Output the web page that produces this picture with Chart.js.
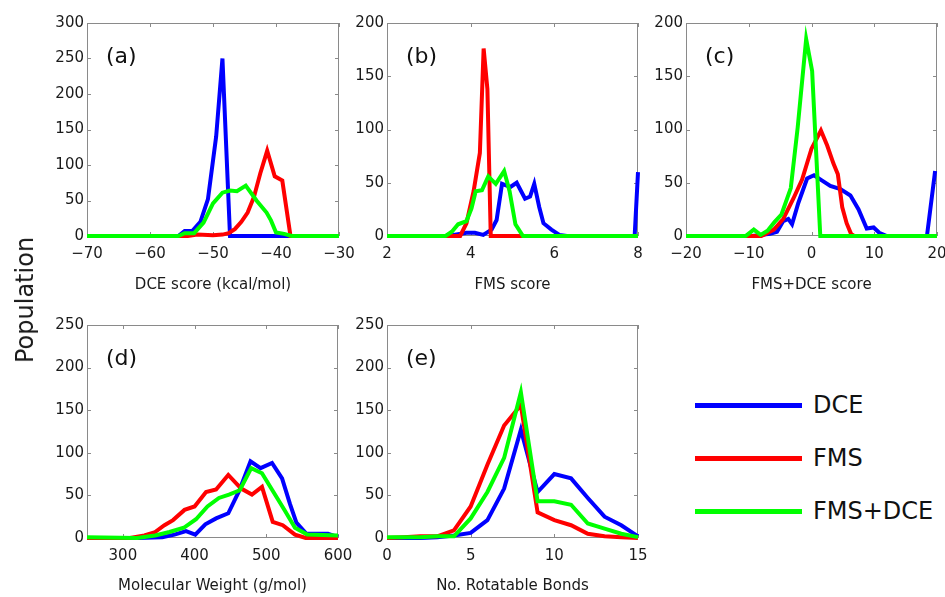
<!DOCTYPE html>
<html><head><meta charset="utf-8">
<script src="https://cdn.jsdelivr.net/npm/chart.js@4"></script>
<style>
html,body{margin:0;padding:0;background:#fff;}
#wrap{position:relative;width:945px;height:597px;background:#fff;overflow:hidden;font-family:"DejaVu Sans",sans-serif;}
canvas{position:absolute;}
#ylab{position:absolute;left:25px;top:300px;transform:translate(-50%,-50%) rotate(-90deg);font-size:24px;color:#1a1a1a;white-space:nowrap;}
.leg{position:absolute;left:695px;width:107px;height:5px;}
.legt{position:absolute;left:813px;font-size:24px;color:#111;line-height:28px;transform:translateY(-50%);white-space:nowrap;}
</style></head>
<body><div id="wrap">
<canvas id="ca" width="365" height="300" style="left:0;top:0"></canvas>
<canvas id="cb" width="320" height="300" style="left:345px;top:0"></canvas>
<canvas id="cc" width="310" height="300" style="left:645px;top:0"></canvas>
<canvas id="cd" width="365" height="297" style="left:0;top:300px"></canvas>
<canvas id="ce" width="320" height="297" style="left:345px;top:300px"></canvas>
<div id="ylab">Population</div>
<div class="leg" style="top:403px;background:#0000ff"></div><div class="legt" style="top:405px">DCE</div>
<div class="leg" style="top:456px;background:#ff0000"></div><div class="legt" style="top:458px">FMS</div>
<div class="leg" style="top:509px;background:#00ff00"></div><div class="legt" style="top:511px">FMS+DCE</div>
</div>
<script>
// ---- series names ----
const seriesNames = ['DCE','FMS','FMS+DCE'];

// ---- (a) DCE score ----
const aBlueX  = [-70,-55.5,-54.5,-53.3,-52,-50.8,-49.5,-48.5,-47.3,-30];
const aBlueY  = [0,0,7,7,20,52,140,250,0,0];
const aRedX   = [-70,-54,-52.5,-50,-48.5,-47.5,-46.5,-45.5,-44.5,-43.5,-42.5,-41.4,-40.2,-39,-37.7,-30];
const aRedY   = [0,0,2,1,2,4,10,20,33,55,88,120,84,78,0,0];
const aGreenX = [-70,-55.5,-54.5,-53,-51.5,-50,-48.5,-47.3,-46.2,-44.8,-43.1,-41.5,-40.8,-40,-38.7,-37.5,-30];
const aGreenY = [0,0,4,4,19,46,61,64,63,71,50,33,22,5,3,0,0];
const aXTicks = [-70,-60,-50,-40,-30];
const aYTicks = [0,50,100,150,200,250,300];

// ---- (b) FMS score ----
const bBlueX  = [2,3.45,3.9,4.1,4.3,4.5,4.62,4.75,4.95,5.1,5.3,5.42,5.52,5.64,5.74,5.93,6.12,6.3,7.92,8];
const bBlueY  = [0,0,3,3,1,6,15,49,46,50,35,37,49,27,12,6,1,0,0,60];
const bRedX   = [2,3.75,3.9,4.07,4.22,4.31,4.4,4.48,8];
const bRedY   = [0,0,12,42,78,176,138,0,0];
const bGreenX = [2,3.4,3.55,3.7,3.9,4.02,4.12,4.27,4.42,4.6,4.8,4.93,5.07,5.25,8];
const bGreenY = [0,0,4,11,14,26,42,43,56,49,61,42,11,0,0];
const bXTicks = [2,4,6,8];
const bYTicks = [0,50,100,150,200];

// ---- (c) FMS+DCE score ----
const cBlueX  = [-20,-9.5,-6.6,-5.5,-4.5,-3.7,-3.1,-2.1,-0.7,0.4,1.7,3.0,4.6,6.2,7.5,8.8,9.9,10.8,12,18.4,19.7];
const cBlueY  = [0,0,2,4,14,16,11,31,54,57,52,47,44,38,25,7,8,3,0,0,61];
const cRedX   = [-20,-8,-7.3,-6,-4.5,-2.9,-1.5,0,1.5,2.5,3.5,4.2,4.9,5.6,6.3,6.8,20];
const cRedY   = [0,0,2,6,16,35,53,82,99,85,68,58,27,12,2,0,0];
const cGreenX = [-20,-10.5,-9.2,-8.1,-7,-5.9,-4.8,-3.3,-2.2,-0.85,0.1,1.4,20];
const cGreenY = [0,0,6,1,5,13,20,45,102,185,155,0,0];
const cXTicks = [-20,-10,0,10,20];
const cYTicks = [0,50,100,150,200];

// ---- (d) Molecular weight ----
const dBlueX  = [250,320,355,372,388,401,415,430,447,462,478,492,508,522,533,542,556,586,600];
const dBlueY  = [0,0,1,4,8,4,16,23,29,55,90,82,88,70,40,18,5,5,1];
const dRedX   = [250,310,330,345,358,370,386,400,416,430,447,465,480,494,509,523,540,555,600];
const dRedY   = [0,0,3,7,15,21,33,37,54,57,74,58,51,60,19,15,4,0,0];
const dGreenX = [250,320,345,365,385,402,418,434,448,463,479,494,510,526,540,557,600];
const dGreenY = [1,0,3,7,12,22,37,47,51,56,82,76,54,32,12,4,3];
const dXTicks = [300,400,500,600];
const dYTicks = [0,50,100,150,200,250];

// ---- (e) Rotatable bonds ----
const eX      = [0,1,2,3,4,5,6,7,8,9,10,11,12,13,14,15];
const eBlueY  = [0,0,0,1,3,6,21,58,127,54,75,70,47,25,15,2];
const eRedY   = [0,1,2,2,9,37,86,132,156,30,21,15,5,2,1,0];
const eGreenY = [1,1,1,2,2,23,54,94,171,43,43,39,17,11,5,1];
const eXTicks = [0,5,10,15];
const eYTicks = [0,50,100,150,200,250];

const COLORS = ['#0000ff','#ff0000','#00ff00'];
const FONT = 'DejaVu Sans';

function pts(xs, ys){ return xs.map((x,i)=>({x:x, y:ys[i]})); }
function fmt(v){ return v < 0 ? '\u2212' + Math.abs(v) : String(v); }
function noPad(s){ s.paddingLeft = 0; s.paddingRight = 0; s.paddingTop = 0; s.paddingBottom = 0; }

const framePlugin = {
  id: 'frame',
  beforeDatasetsDraw(chart){
    const {ctx, chartArea:{left,right,top,bottom}} = chart;
    const sx = chart.scales.x, sy = chart.scales.y;
    ctx.save();
    ctx.strokeStyle = '#8a8a8a';
    ctx.lineWidth = 1;
    ctx.strokeRect(Math.round(left)+0.5, Math.round(top)+0.5, Math.round(right-left)-1, Math.round(bottom-top)-1);
    ctx.beginPath();
    sx.ticks.forEach(t=>{
      const p = Math.round(sx.getPixelForValue(t.value))+0.5;
      ctx.moveTo(p, bottom); ctx.lineTo(p, bottom-4);
      ctx.moveTo(p, top); ctx.lineTo(p, top+4);
    });
    sy.ticks.forEach(t=>{
      const p = Math.round(sy.getPixelForValue(t.value))+0.5;
      ctx.moveTo(left, p); ctx.lineTo(left+4, p);
      ctx.moveTo(right, p); ctx.lineTo(right-4, p);
    });
    ctx.stroke();
    ctx.restore();
  },
  afterDraw(chart, args, opts){
    const {ctx, chartArea:{left,top}} = chart;
    ctx.save();
    ctx.fillStyle = '#111';
    ctx.font = '22px "' + FONT + '"';
    ctx.textBaseline = 'middle';
    ctx.textAlign = 'left';
    ctx.fillText(opts.label, left + 19, top + 34);
    ctx.restore();
  }
};

function makePanel(id, cfg){
  const datasets = cfg.series.map((s,i)=>({
    label: seriesNames[i],
    data: s,
    borderColor: COLORS[i],
    backgroundColor: COLORS[i],
    borderWidth: 4,
    pointRadius: 0,
    tension: 0,
    fill: false,
    order: 3 - i,
    clip: 4
  }));
  new Chart(document.getElementById(id), {
    type: 'line',
    data: { datasets },
    plugins: [framePlugin],
    options: {
      responsive: false,
      animation: false,
      devicePixelRatio: 1,
      parsing: false,
      layout: { padding: { top: cfg.padTop, right: cfg.padRight, left: 0, bottom: 0 } },
      plugins: {
        legend: { display: false },
        tooltip: { enabled: false },
        frame: { label: cfg.label }
      },
      scales: {
        x: {
          type: 'linear',
          min: cfg.xTicks0 !== undefined ? cfg.xTicks0 : cfg.xTicks[0],
          max: cfg.xTicks[cfg.xTicks.length-1],
          afterBuildTicks: s => { s.ticks = cfg.xTicks.map(v=>({value:v})); },
          afterFit: s => { s.height = cfg.xH; noPad(s); },
          grid: { display: false, drawTicks: false },
          border: { display: false },
          ticks: { padding: 9, color: '#1a1a1a', font: { family: FONT, size: 15 }, callback: v => fmt(v), maxRotation: 0, autoSkip: false },
          title: { display: true, text: cfg.xTitle, color: '#1a1a1a', font: { family: FONT, size: 15 }, padding: { top: 0, bottom: cfg.titlePad } }
        },
        y: {
          type: 'linear',
          min: 0,
          max: cfg.yTicks[cfg.yTicks.length-1],
          afterBuildTicks: s => { s.ticks = cfg.yTicks.map(v=>({value:v})); },
          afterFit: s => { s.width = cfg.yW; noPad(s); },
          grid: { display: false, drawTicks: false },
          border: { display: false },
          ticks: { padding: 3, color: '#1a1a1a', font: { family: FONT, size: 15 }, callback: v => fmt(v), autoSkip: false }
        }
      }
    }
  });
}

makePanel('ca', { label:'(a)', series:[pts(aBlueX,aBlueY), pts(aRedX,aRedY), pts(aGreenX,aGreenY)],
  xTicks:aXTicks, yTicks:aYTicks, xTitle:'DCE score (kcal/mol)', yW:87, xH:64, padTop:23, padRight:26, titlePad:6 });
makePanel('cb', { label:'(b)', series:[pts(bBlueX,bBlueY), pts(bRedX,bRedY), pts(bGreenX,bGreenY)],
  xTicks:bXTicks, yTicks:bYTicks, xTitle:'FMS score', yW:42, xH:64, padTop:23, padRight:27, titlePad:6 });
makePanel('cc', { label:'(c)', series:[pts(cBlueX,cBlueY), pts(cRedX,cRedY), pts(cGreenX,cGreenY)],
  xTicks:cXTicks, yTicks:cYTicks, xTitle:'FMS+DCE score', yW:41, xH:64, padTop:23, padRight:18, titlePad:6 });
makePanel('cd', { label:'(d)', series:[pts(dBlueX,dBlueY), pts(dRedX,dRedY), pts(dGreenX,dGreenY)],
  xTicks:dXTicks, xTicks0:250, yTicks:dYTicks, xTitle:'Molecular Weight (g/mol)', yW:87, xH:59, padTop:25, padRight:27, titlePad:2 });
makePanel('ce', { label:'(e)', series:[pts(eX,eBlueY), pts(eX,eRedY), pts(eX,eGreenY)],
  xTicks:eXTicks, yTicks:eYTicks, xTitle:'No. Rotatable Bonds', yW:42, xH:59, padTop:25, padRight:27, titlePad:2 });
</script>
</body></html>
